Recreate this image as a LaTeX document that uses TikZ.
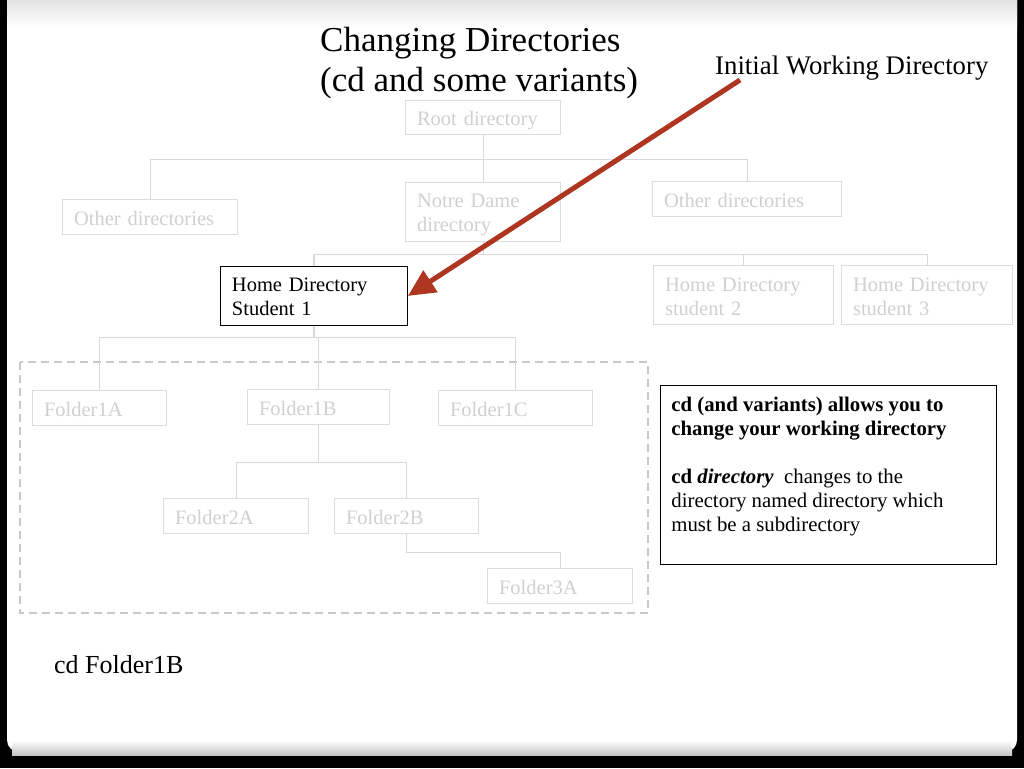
\documentclass[tikz,border=0pt]{standalone}
\usepackage{fontspec}
\setmainfont{Liberation Serif}
\usetikzlibrary{arrows.meta,calc}
\definecolor{boxgray}{HTML}{DCDCDC}
\definecolor{txtgray}{HTML}{D0D0D0}
\definecolor{linegray}{HTML}{D8D8D8}
\definecolor{dashgray}{HTML}{C8C8C8}
\definecolor{arrowred}{HTML}{AE3620}
\newcommand{\myfirststrut}{\rule{0pt}{20pt}}
\newcommand{\mylaststrut}{\rule[-4pt]{0pt}{4pt}}
\begin{document}
\begin{tikzpicture}[x=1pt,y=-1pt,
  dirbox/.style n args={2}{draw=boxgray, line width=1.1pt, text=txtgray,
    font=\fontsize{20.5}{24}\selectfont, anchor=north west, inner xsep=11.5pt,
    inner ysep=0pt, align=left, text width=#1, minimum height=#2,
    execute at begin node=\myfirststrut, execute at end node=\mylaststrut},
  homebox/.style n args={2}{dirbox={#1}{#2}, draw=black, line width=0.9pt, text=black},
  conn/.style={draw=linegray, line width=1.1pt},
  pointer/.style={draw=arrowred, line width=5pt, -{Triangle[length=27pt,width=25pt]}}]
\useasboundingbox (0,0) rectangle (1024,768);
% slide background
\fill[black] (0,0) rectangle (1024,768);
\fill[white, rounded corners=12pt] (7,-20) rectangle (1017,752);
\shade[top color=gray!22, bottom color=white] (7,0) rectangle (1017,28);
\shade[top color=white, bottom color=gray!45] (12,740) rectangle (1012,755);
% titles
\node[anchor=north west, align=left, inner sep=0pt, font=\fontsize{35}{40}\selectfont] (title) at (320,27)
  {Changing Directories\\(cd and some variants)};
\node[anchor=west, inner sep=0pt, font=\fontsize{26.8}{30}\selectfont] (iwd) at (715,68) {Initial Working Directory};
% dashed region
\draw[dashgray, line width=2.4pt, dash pattern=on 8pt off 5pt] (20,362) rectangle (648,613);
% directory boxes
\node[dirbox={132pt}{34pt}] (root) at (405,100) {Root directory};
\node[dirbox={152pt}{35pt}] (othL) at (62,199) {Other directories};
\node[dirbox={132pt}{59pt}] (nd) at (405,182) {Notre Dame\\directory};
\node[dirbox={166pt}{35pt}] (othR) at (652,181) {Other directories};
\node[homebox={164pt}{59pt}] (home1) at (220,266) {Home Directory\\Student 1};
\node[dirbox={157pt}{59pt}] (home2) at (653,265) {Home Directory\\student 2};
\node[dirbox={148pt}{59pt}] (home3) at (841,265) {Home Directory\\student 3};
\node[dirbox={111pt}{35pt}] (f1a) at (32,390) {Folder1A};
\node[dirbox={119pt}{35pt}] (f1b) at (247,389) {Folder1B};
\node[dirbox={131pt}{35pt}] (f1c) at (438,390) {Folder1C};
\node[dirbox={122pt}{35pt}] (f2a) at (163,498) {Folder2A};
\node[dirbox={121pt}{35pt}] (f2b) at (334,498) {Folder2B};
\node[dirbox={122pt}{35pt}] (f3a) at (487,568) {Folder3A};
% connectors
\draw[conn] (root.south) -- ++(0,24) -| (othL.north);
\draw[conn] (root.south) -- (nd.north);
\draw[conn] (root.south) -- ++(0,24) -| (othR.north);
\draw[conn] (nd.south) -- ++(0,12) -| (home1.north);
\draw[conn] (nd.south) -- ++(0,12) -| (home2.north);
\draw[conn] (nd.south) -- ++(0,12) -| (home3.north);
\draw[conn] (home1.south) -- ++(0,12) -| (f1a.north);
\draw[conn] (home1.south) -- ++(0,12) -| (f1b.north);
\draw[conn] (home1.south) -- ++(0,12) -| (f1c.north);
\draw[conn] (f1b.south) -- ++(0,37) -| (f2a.north);
\draw[conn] (f1b.south) -- ++(0,37) -| (f2b.north);
\draw[conn] (f2b.south) -- ++(0,18) -| (f3a.north);
% info box
\node[draw=black, line width=0.8pt, anchor=north west, inner xsep=11pt, inner ysep=8pt] (info) at (660,385)
  {\parbox[b][163pt][t]{314pt}{\vspace*{4pt}\fontsize{20.8}{24}\selectfont\raggedright
   \textbf{cd (and variants) allows you to}\\
   \textbf{change your working directory}\\[24pt]
   \textbf{cd \textit{directory}}\ \ changes to the\\
   directory named directory which\\
   must be a subdirectory}};
% command
\node[anchor=west, inner sep=0pt, font=\fontsize{26}{30}\selectfont] (cmd) at (54,665) {cd Folder1B};
% pointer arrow
\coordinate (astart) at (740,80);
\draw[pointer] (astart) -- (home1.east);
\end{tikzpicture}
\end{document}
